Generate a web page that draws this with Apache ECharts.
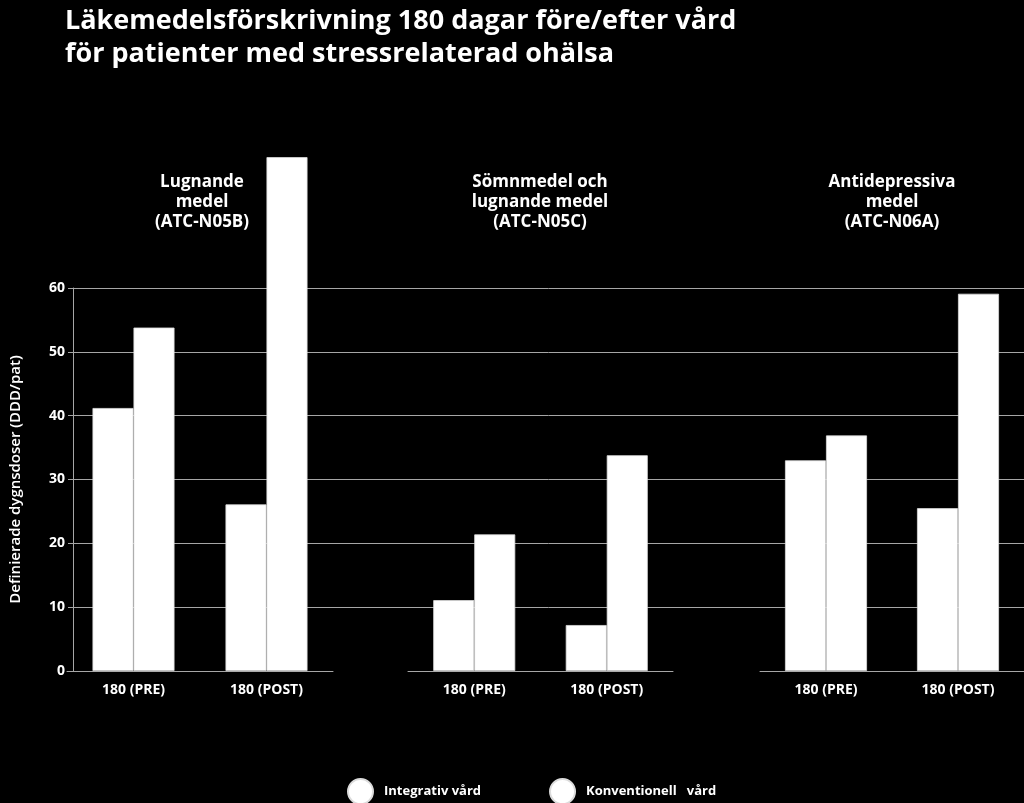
<!DOCTYPE html>
<html>
<head>
<meta charset="utf-8">
<script src="https://cdn.jsdelivr.net/npm/echarts@6/dist/echarts.min.js"></script>
<style>
html,body{margin:0;padding:0;background:#000;}
#c{width:1024px;height:803px;}
</style>
</head>
<body>
<div id="c"></div>
<script>
const mainTitle = 'Läkemedelsförskrivning 180 dagar före/efter vård\nför patienter med stressrelaterad ohälsa';
const yAxisName = 'Definierade dygnsdoser (DDD/pat)';
const categories = ['180 (PRE)', '180 (POST)'];
const groupTitles = [
  'Lugnande\nmedel\n(ATC-N05B)',
  'Sömnmedel och\nlugnande medel\n(ATC-N05C)',
  'Antidepressiva\nmedel\n(ATC-N06A)'
];
const seriesNames = ['Integrativ vård', 'Konventionell   vård'];
const integrativ = [[41.2, 26.1], [11.1, 7.2], [33.0, 25.5]];
const konventionell = [[53.8, 80.5], [21.4, 33.8], [36.9, 59.1]];
const yMin = 0, yMax = 60, yInterval = 10;

const FONT = '"Open Sans"';
const gridColor = '#a6a6a6';
const panels = [
  {left: 67, width: 266, cx: 202},
  {left: 408, width: 265, cx: 540},
  {left: 760, width: 264, cx: 892}
];
const TOP = 288, BOTTOM = 132;

const grids = [{left: 67, right: 0, top: TOP, bottom: BOTTOM}];
const xAxes = [{gridIndex: 0, type: 'value', show: false, min: 0, max: 1}];
const yAxes = [{
  gridIndex: 0, type: 'value', min: yMin, max: yMax, interval: yInterval,
  name: yAxisName, nameLocation: 'middle', nameRotate: 90, nameGap: 50,
  nameTextStyle: {color: '#fff', fontFamily: FONT, fontSize: 15, fontWeight: 600},
  axisLine: {show: true, lineStyle: {color: gridColor, width: 1}},
  axisTick: {show: true, length: 5, lineStyle: {color: gridColor}},
  axisLabel: {color: '#fff', fontFamily: FONT, fontSize: 14, fontWeight: 'bold', margin: 8},
  splitLine: {show: true, showMinLine: false, lineStyle: {color: gridColor, width: 1}}
}];
const series = [];
const graphics = [];

panels.forEach((p, i) => {
  const gi = i + 1;
  grids.push({left: p.left, width: p.width, top: TOP, bottom: BOTTOM});
  xAxes.push({
    gridIndex: gi, type: 'category', data: categories,
    axisLine: {show: true, lineStyle: {color: gridColor, width: 1}},
    axisTick: {show: false},
    axisLabel: {color: '#fff', fontFamily: FONT, fontSize: 14, fontWeight: 'bold', margin: 12}
  });
  yAxes.push({gridIndex: gi, type: 'value', min: yMin, max: yMax, interval: yInterval, show: false,
    splitLine: {show: false}});
  [integrativ, konventionell].forEach((arr, si) => {
    series.push({
      type: 'bar', name: seriesNames[si], xAxisIndex: gi, yAxisIndex: gi,
      data: arr[i], barWidth: 41, barGap: '0%', clip: false,
      itemStyle: {color: '#ffffff', borderColor: '#dcdcdc', borderWidth: 0.8},
      emphasis: {disabled: true}
    });
  });
  graphics.push({
    type: 'text', x: p.cx, y: 172,
    style: {text: groupTitles[i], textAlign: 'center', fill: '#fff',
      font: 'bold 17px ' + FONT, lineHeight: 20}
  });
});

const chart = echarts.init(document.getElementById('c'));
chart.setOption({
  backgroundColor: '#000',
  animation: false,
  title: {
    text: mainTitle, left: 60, top: 0,
    textStyle: {color: '#fff', fontFamily: FONT, fontSize: 27, fontWeight: 'bold', lineHeight: 33}
  },
  legend: {
    data: seriesNames, left: 347, top: 778, padding: 0, icon: 'circle',
    itemWidth: 25, itemHeight: 25, itemGap: 68,
    textStyle: {color: '#fff', fontFamily: FONT, fontSize: 13, fontWeight: 'bold', padding: [0, 0, 0, 6]},
    selectedMode: false
  },
  grid: grids, xAxis: xAxes, yAxis: yAxes, series: series, graphic: graphics
});
</script>
</body>
</html>
